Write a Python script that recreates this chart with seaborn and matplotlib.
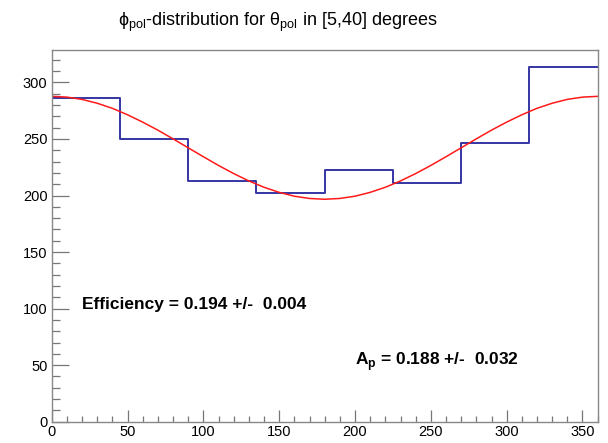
import numpy as np
import matplotlib
matplotlib.use("Agg")
import matplotlib.pyplot as plt
import seaborn as sns
from matplotlib.ticker import MultipleLocator

# phi_pol histogram, 8 bins of 45 degrees
bin_edges = [0, 45, 90, 135, 180, 225, 270, 315, 360]
counts = [286, 250, 213, 202, 222.5, 211, 246, 313.5]

# red fit curve, every 10 degrees
fit_phi = list(range(0, 361, 10))
fit_vals = [287.7, 287.0, 285.0, 281.6, 277.1, 271.4, 264.9, 257.8, 250.1, 242.2,
            234.3, 226.6, 219.4, 212.9, 207.3, 202.8, 199.4, 197.4, 196.7,
            197.4, 199.4, 202.8, 207.3, 212.9, 219.4, 226.6, 234.3, 242.2,
            250.1, 257.8, 264.9, 271.4, 277.1, 281.6, 285.0, 287.0, 287.7]

eff_label = "Efficiency = 0.194 +/-  0.004"
ap_label = r"A$_{\mathbf{p}}$ = 0.188 +/-  0.032"
title = r"ϕ$_{\rm pol}$-distribution for θ$_{\rm pol}$ in [5,40] degrees"

sns.set_style("ticks")
plt.rcParams["font.family"] = ["Liberation Sans", "DejaVu Sans"]
plt.rcParams["mathtext.fontset"] = "custom"
plt.rcParams["mathtext.rm"] = "Liberation Sans"
plt.rcParams["mathtext.bf"] = "Liberation Sans:bold"
plt.rcParams["text.color"] = "black"
plt.rcParams["xtick.labelcolor"] = "black"
plt.rcParams["ytick.labelcolor"] = "black"

fig = plt.figure(figsize=(6.08, 4.43), dpi=100)
ax = fig.add_axes([0.085, 0.048, 0.898, 0.840])

centers = [(a + b) / 2 for a, b in zip(bin_edges[:-1], bin_edges[1:])]
sns.histplot(x=centers, weights=counts, bins=bin_edges, element="step", fill=False,
             color="#3535a5", linewidth=1.4, ax=ax)
sns.lineplot(x=fit_phi, y=fit_vals, color="#ff1a1a", linewidth=1.1, ax=ax)

ax.set_xlim(0, 360)
ax.set_ylim(0, 329)
ax.set_xlabel("")
ax.set_ylabel("")

ax.xaxis.set_major_locator(MultipleLocator(50))
ax.xaxis.set_minor_locator(MultipleLocator(10))
ax.yaxis.set_major_locator(MultipleLocator(50))
ax.yaxis.set_minor_locator(MultipleLocator(10))
ax.tick_params(axis="y", which="major", direction="in", length=12, width=0.9, color="#777777",
               labelsize=10.5, pad=3)
ax.tick_params(axis="y", which="minor", direction="in", length=6, width=0.9, color="#777777")
ax.tick_params(axis="x", which="major", direction="in", length=8.5, width=0.9, color="#777777",
               labelsize=10.5, pad=2)
ax.tick_params(axis="x", which="minor", direction="in", length=4.5, width=0.9, color="#777777")
for s in ax.spines.values():
    s.set_color("#888888")
    s.set_linewidth(1.0)

ax.text(20, 100, eff_label, fontsize=12.5, fontweight="bold", ha="left", va="baseline")
ax.text(200, 50, ap_label, fontsize=12.5, fontweight="bold", ha="left", va="baseline")

fig.text(278 / 608, 1 - 22 / 443, title, fontsize=13, ha="center", va="center")

fig.savefig("out.png", dpi=100)
